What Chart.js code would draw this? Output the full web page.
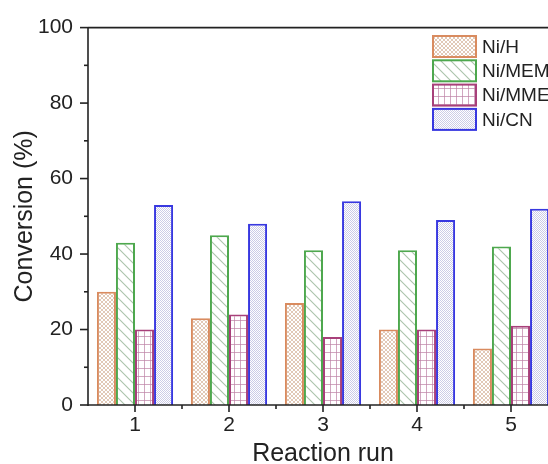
<!DOCTYPE html>
<html>
<head>
<meta charset="utf-8">
<script src="https://cdn.jsdelivr.net/npm/chart.js@4.4.1/dist/chart.umd.min.js"></script>
<style>
    html, body { margin: 0; padding: 0; background: #fff; overflow: hidden; width: 548px; height: 464px; }
    #wrap { position: relative; width: 560px; height: 464px; }
</style>
</head>
<body>
<div id="wrap"><canvas id="myChart"></canvas></div>
<script>
const runs = ["1", "2", "3", "4", "5"];
const niH = [30, 23, 27, 20, 15];
const niMEM = [43, 45, 41, 41, 42];
const niMME = [20, 24, 18, 20, 21];
const niCN = [53, 48, 54, 49, 52];
const yTicks = [0, 20, 40, 60, 80, 100];

const FONT = "'Liberation Sans', Arial, sans-serif";
const INK = "#222";

// little canvas tiles used as bar fills
const makeTile = (w, h, draw) => {
    const c = document.createElement("canvas");
    c.width = w;
    c.height = h;
    const g = c.getContext("2d");
    g.fillStyle = "#fff";
    g.fillRect(0, 0, w, h);
    draw(g);
    return c;
};

const ctx = document.getElementById("myChart").getContext("2d");

const dotTile = makeTile(4, 4, g => {
    g.fillStyle = "rgba(205,165,135,0.6)";
    [[0, 0], [1, 1], [2, 2], [3, 3], [3, 0], [2, 1], [1, 2], [0, 3]].forEach(([x, y]) => g.fillRect(x, y, 1, 1));
});
const slashTile = makeTile(10, 10, g => {
    g.strokeStyle = "rgba(150,180,150,0.8)";
    g.lineWidth = 1.1;
    g.beginPath();
    g.moveTo(-1, -1); g.lineTo(11, 11);
    g.moveTo(-1, 9); g.lineTo(1, 11);
    g.moveTo(9, -1); g.lineTo(11, 1);
    g.stroke();
});
const gridTile = makeTile(6, 8, g => {
    g.fillStyle = "rgba(190,130,165,0.7)";
    g.fillRect(0, 0, 6, 1);
    g.fillRect(0, 0, 1, 8);
});
const fineTile = makeTile(2, 2, g => {
    g.fillStyle = "rgba(170,170,215,0.6)";
    g.fillRect(0, 0, 1, 1);
    g.fillRect(1, 1, 1, 1);
});

const series = [
    {label: "Ni/H", data: niH, border: "#d98b5f", tile: dotTile},
    {label: "Ni/MEM", data: niMEM, border: "#4ea84e", tile: slashTile},
    {label: "Ni/MME", data: niMME, border: "#a8407a", tile: gridTile},
    {label: "Ni/CN", data: niCN, border: "#3838e0", tile: fineTile},
];

const line = (c, x1, y1, x2, y2) => {
    c.beginPath();
    c.moveTo(x1, y1);
    c.lineTo(x2, y2);
    c.stroke();
};

const frameAndTicks = {
    id: "frameAndTicks",
    afterDatasetsDraw(chart) {
        const {ctx: c, chartArea: a, scales: {x, y}, width} = chart;
        c.save();
        c.strokeStyle = INK;
        c.lineWidth = 1.6;
        line(c, a.left, a.top, a.left, a.bottom + 1);
        line(c, a.left, a.bottom, width, a.bottom);
        line(c, a.left, a.top, width, a.top);
        for (let v = 0; v <= 100; v += 10) {
            const py = y.getPixelForValue(v);
            line(c, a.left - (v % 20 === 0 ? 8 : 4), py, a.left, py);
        }
        runs.forEach((r, i) => {
            const px = x.getPixelForValue(i);
            line(c, px, a.bottom, px, a.bottom + 7);
            if (i < runs.length - 1) {
                const mx = (px + x.getPixelForValue(i + 1)) / 2;
                line(c, mx, a.bottom, mx, a.bottom + 4);
            }
        });
        c.restore();
    }
};

const legendBoxes = {
    id: "legendBoxes",
    afterDraw(chart) {
        const c = chart.ctx;
        c.save();
        chart.data.datasets.forEach((ds, i) => {
            const bx = 433, by = 36 + i * 24.3, bw = 43, bh = 21;
            c.fillStyle = ds.backgroundColor;
            c.fillRect(bx, by, bw, bh);
            c.strokeStyle = ds.borderColor;
            c.lineWidth = 2;
            c.strokeRect(bx, by, bw, bh);
            c.fillStyle = INK;
            c.font = `19px ${FONT}`;
            c.textBaseline = "middle";
            c.textAlign = "left";
            c.fillText(ds.label, 482, by + bh / 2 + 1);
        });
        c.restore();
    }
};

new Chart(ctx, {
    type: "bar",
    data: {
        labels: runs,
        datasets: series.map(s => ({
            label: s.label,
            data: s.data,
            backgroundColor: ctx.createPattern(s.tile, "repeat"),
            borderColor: s.border,
            borderWidth: 2,
            categoryPercentage: 0.81,
            barPercentage: 1.0,
        }))
    },
    options: {
        responsive: true,
        maintainAspectRatio: false,
        animation: false,
        layout: {padding: {top: 25, right: 2, left: 0, bottom: 0}},
        plugins: {
            legend: {display: false},
            tooltip: {enabled: false},
        },
        scales: {
            x: {
                grid: {display: false, drawTicks: false},
                border: {display: false},
                ticks: {color: INK, font: {family: FONT, size: 21}, padding: 8},
                title: {
                    display: true,
                    text: "Reaction run",
                    color: INK,
                    font: {family: FONT, size: 25, lineHeight: 1},
                    padding: {top: 0, bottom: -3},
                },
                afterFit: scale => { scale.height = 59; },
            },
            y: {
                min: 0,
                max: 100,
                afterBuildTicks: scale => { scale.ticks = yTicks.map(v => ({value: v})); },
                grid: {display: false, drawTicks: false},
                border: {display: false},
                ticks: {color: INK, font: {family: FONT, size: 21}, padding: 15},
                title: {
                    display: true,
                    text: "Conversion (%)",
                    color: INK,
                    font: {family: FONT, size: 25, lineHeight: 1.2},
                    padding: {top: 10, bottom: 0},
                },
                afterFit: scale => { scale.width = 88; },
            },
        },
    },
    plugins: [frameAndTicks, legendBoxes],
});
</script>
</body>
</html>
